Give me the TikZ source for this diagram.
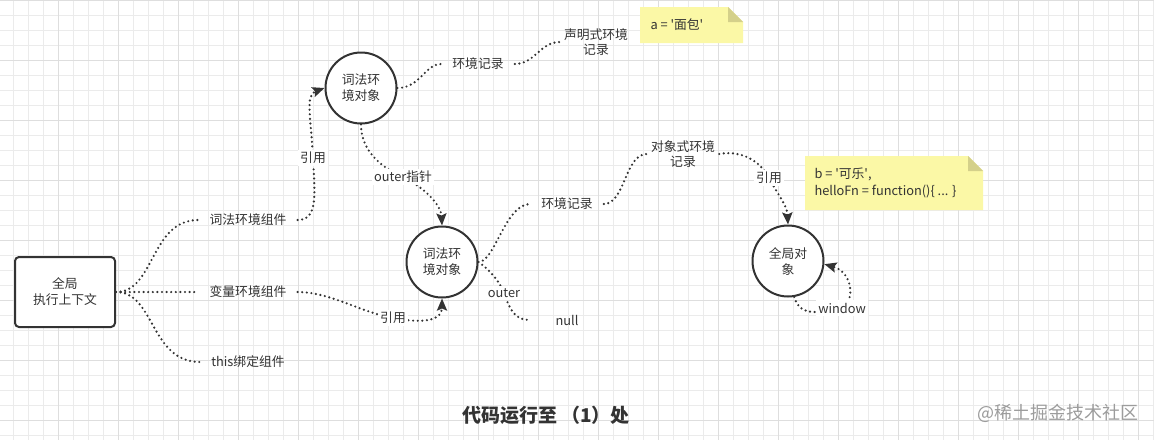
\documentclass[tikz,border=0pt]{standalone}
\usepackage{fontspec}
\setmainfont{Noto Sans CJK SC}
\usepackage{tikz}
\usetikzlibrary{positioning,arrows.meta,calc}
\definecolor{inkgray}{HTML}{333333}
\definecolor{gridminor}{HTML}{EBEBEB}
\definecolor{gridmajor}{HTML}{DEDEDE}
\definecolor{notefill}{HTML}{FBF8A6}
\definecolor{notefold}{HTML}{D4D08A}
\definecolor{markgray}{HTML}{9C9C9C}

\begin{document}
\begin{tikzpicture}[
    x=1pt, y=-1pt,
    every node/.style={font=\fontsize{12.8}{16}\selectfont, text=inkgray},
    ctxbox/.style={draw=inkgray, fill=white, line width=2pt, rounded corners=4pt,
                   minimum width=100pt, minimum height=70pt, align=center},
    envcircle/.style={draw=inkgray, fill=white, circle, line width=2pt, minimum size=71pt,
                      inner sep=0pt, align=center},
    part/.style={inner xsep=11pt, inner ysep=2pt},
    rec/.style={inner xsep=4pt, inner ysep=1pt, align=center,
                font=\fontsize{12.8}{15}\selectfont},
    lbl/.style={fill=white, inner sep=2.5pt},
    link/.style={draw=inkgray, line width=2.4pt, line cap=round, dash pattern=on 0pt off 4.6pt},
    ref/.style={link, -{Stealth[length=12pt, width=10pt, inset=2pt]}}
]
    % paper and grid
    \useasboundingbox (0,0) rectangle (1154,440);
    \fill[white] (0,0) rectangle (1154,440);
    \foreach \gx in {13.3,28.3,...,1154} \draw[gridminor, line width=0.8pt] (\gx,0) -- (\gx,440);
    \foreach \gy in {0,15,...,440} \draw[gridminor, line width=0.8pt] (0,\gy) -- (1154,\gy);
    \foreach \gx in {58.3,118.3,...,1154} \draw[gridmajor, line width=0.8pt] (\gx,0) -- (\gx,440);
    \foreach \gy in {0,60,...,440} \draw[gridmajor, line width=0.8pt] (0,\gy) -- (1154,\gy);

    % sticky notes
    \fill[notefill] (640,7) -- (728,7) -- (743,22) -- (743,43) -- (640,43) -- cycle;
    \fill[notefold] (728,7) -- (728,22) -- (743,22) -- cycle;
    \fill[notefill] (805,156) -- (968,156) -- (983,171) -- (983,210) -- (805,210) -- cycle;
    \fill[notefold] (968,156) -- (968,171) -- (983,171) -- cycle;
    \node[anchor=west] (notea) at (647,25) {a = \textquotesingle 面包\textquotesingle};
    \node[anchor=west, align=left, font=\fontsize{12.8}{17}\selectfont] (noteb) at (811,182.5)
        {b = \textquotesingle 可乐\textquotesingle,\\helloFn = function()\{ ... \}};

    % nodes
    \node[ctxbox] (ctx) at (65,292) {全局\\执行上下文};
    \node[part] (lexcomp) at (248,220) {词法环境组件};
    \node[part] (varcomp) at (248,292) {变量环境组件};
    \node[part] (thiscomp) at (248,362) {this绑定组件};
    \node[envcircle] (lexenv) at (361,88) {词法环\\境对象};
    \node[envcircle] (lexenvvar) at (442,262) {词法环\\境对象};
    \node[envcircle] (globalobj) at (788,261) {全局对\\象};
    \node[part] (envreca) at (478,64) {环境记录};
    \node[rec] (declrec) at (596,42) {声明式环境\\记录};
    \node[part] (envrecb) at (567,204) {环境记录};
    \node[rec] (objrec) at (683,154) {对象式环境\\记录};
    \node[part] (nullval) at (567,320) {null};

    \node[font=\fontsize{19}{21}\selectfont\bfseries] (caption) at (546,415) {代码运行至 （1）处};
    \node[font=\fontsize{18}{20}\selectfont, text=markgray] (mark) at (1058,413) {@稀土掘金技术社区};

    % connectors
    \draw[link] (ctx.east) .. controls (155,292) and (150,220) .. (lexcomp.west);
    \draw[link] (ctx.east) -- (varcomp.west);
    \draw[link] (ctx.east) .. controls (155,292) and (150,362) .. (thiscomp.west);
    \draw[ref] (lexcomp.east) .. controls (318,220) and (315,195) .. (313,158) node[lbl] (refa) {引用}
        .. controls (311,118) and (305,95) .. (lexenv.west);
    \draw[link] (lexenv.east) .. controls (420,88) and (425,64) .. (envreca.west);
    \draw[link] (envreca.east) .. controls (535,64) and (540,42) .. (declrec.west);
    \draw[ref] (lexenv.south) .. controls (361,150) and (380,167) .. (403,177) node[lbl] (outerptr) {outer指针}
        .. controls (425,188) and (441,205) .. (lexenvvar.north);
    \draw[link] (lexenvvar.east) .. controls (495,262) and (505,204) .. (envrecb.west);
    \draw[link] (envrecb.east) .. controls (625,204) and (625,154) .. (objrec.west);
    \draw[ref] (objrec.east) .. controls (740,150) and (760,160) .. (769,178) node[lbl] (refc) {引用}
        .. controls (778,195) and (787,205) .. (globalobj.north);
    \draw[ref] (globalobj.-80) .. controls (800,318) and (820,312) .. (842,308) node[lbl] (winref) {window}
        .. controls (856,300) and (852,272) .. (globalobj.-5);
    \draw[link, shorten >=15pt] (lexenvvar.east) .. controls (490,270) and (500,282) .. (504,293) node[lbl] (outerref) {outer}
        .. controls (510,310) and (515,320) .. (nullval.west);
    \draw[ref] (varcomp.east) .. controls (330,292) and (360,312) .. (393,318) node[lbl] (refb) {引用}
        .. controls (425,324) and (442,320) .. (lexenvvar.south);
\end{tikzpicture}
\end{document}
